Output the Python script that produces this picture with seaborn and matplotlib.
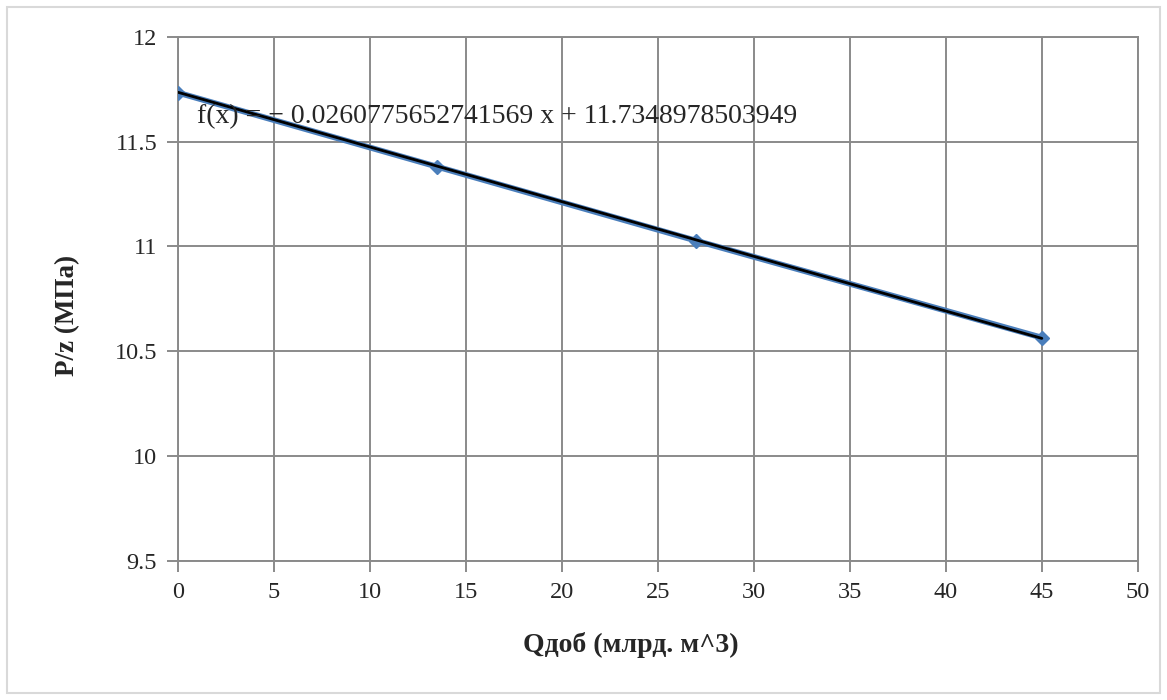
import numpy as np
import pandas as pd
import matplotlib
matplotlib.use("Agg")
import matplotlib.pyplot as plt
from matplotlib.patches import Rectangle
import seaborn as sns

# -------------------------------
# Data
# -------------------------------
q_prod = [0, 13.5, 27, 45]
p_over_z = [11.733, 11.38, 11.027, 10.565]
trend_slope = -0.0260775652741569
trend_intercept = 11.7348978503949
trend_label = "f(x) = \u2212 0.0260775652741569 x + 11.7348978503949"
x_ticks = [0, 5, 10, 15, 20, 25, 30, 35, 40, 45, 50]
y_ticks = [9.5, 10, 10.5, 11, 11.5, 12]
x_title = "Qдоб (млрд. м^3)"
y_title = "P/z (МПа)"

df = pd.DataFrame({"Q": q_prod, "Pz": p_over_z})
trend_x = [q_prod[0], q_prod[-1]]
trend_df = pd.DataFrame({"Q": trend_x,
                         "Pz": [trend_slope * v + trend_intercept for v in trend_x]})

sns.set_style("white")
plt.rcParams["font.family"] = ["Liberation Serif", "DejaVu Serif"]

grid_col = "#8a8a8a"

fig = plt.figure(figsize=(11.67, 7.0), dpi=100)
ax = fig.add_axes([0.1525, 0.1986, 0.975 - 0.1525, 0.9476 - 0.1986])

# series line + markers
sns.lineplot(data=df, x="Q", y="Pz", ax=ax, color="#4a7ebb", linewidth=4.2,
             marker="D", markersize=7, markeredgecolor="#4a7ebb",
             markeredgewidth=1, zorder=3)
# linear trendline
sns.lineplot(data=trend_df, x="Q", y="Pz", ax=ax, color="black", linewidth=2,
             zorder=4)

ax.text(1.0, 11.62, trend_label, fontsize=20, va="center", ha="left", zorder=5)

ax.set_xlim(0, 50)
ax.set_ylim(9.5, 12)
ax.set_xticks(x_ticks)
ax.set_yticks(y_ticks)
ax.set_xticklabels([str(v) for v in x_ticks])
ax.set_yticklabels([f"{v:g}" for v in y_ticks])
ax.tick_params(axis="both", labelsize=17.5, length=8, width=1.4, color=grid_col,
               direction="out", pad=7)
ax.tick_params(axis="x", bottom=True)
ax.tick_params(axis="y", left=True)

ax.grid(True, color=grid_col, linewidth=1.4)
ax.set_axisbelow(True)
for side in ["left", "bottom", "right", "top"]:
    ax.spines[side].set_color(grid_col)
    ax.spines[side].set_linewidth(1.4)

ax.set_xlabel(x_title, fontsize=20, fontweight="bold")
ax.set_ylabel(y_title, fontsize=19.5, fontweight="bold")
ax.xaxis.set_label_coords(0.472, -0.135)
ax.yaxis.set_label_coords(-0.102, 0.469)

# light outer chart border
fig.patches.append(Rectangle((0.006, 0.01), 0.988, 0.98, transform=fig.transFigure,
                             fill=False, edgecolor="#d9d9d9", linewidth=1.5))

plt.savefig("out.png", dpi=100)
plt.close()
